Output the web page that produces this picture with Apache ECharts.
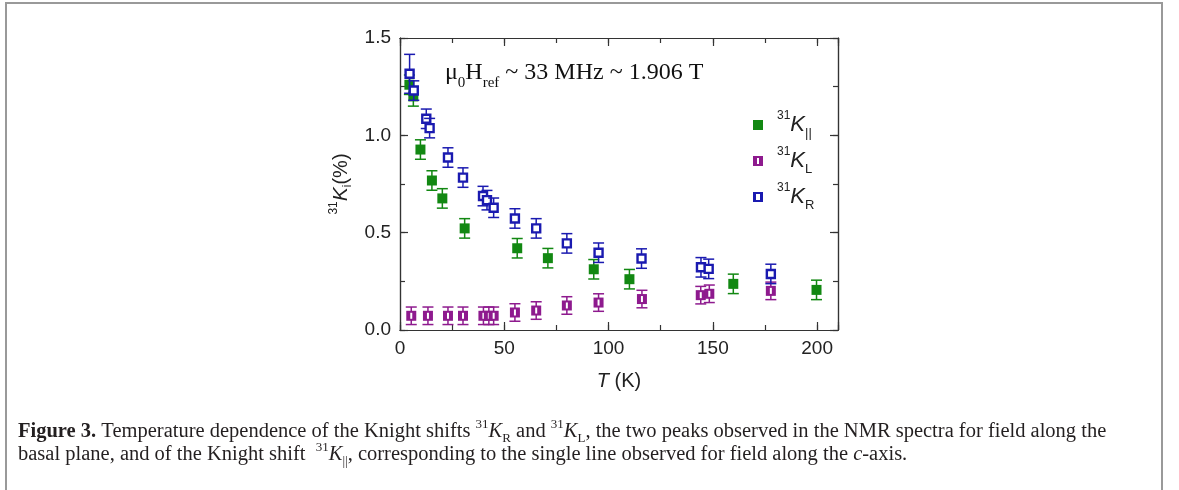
<!DOCTYPE html>
<html>
<head>
<meta charset="utf-8">
<script src="https://cdn.jsdelivr.net/npm/echarts@6/dist/echarts.min.js"></script>
<style>
  html, body { margin: 0; padding: 0; background: #fff; }
  #chart { width: 1179px; height: 490px; }
</style>
</head>
<body>
<div id="chart"></div>
<script>
// K parallel (green, filled squares)
const tPar = [4.5, 6.4, 9.8, 15.3, 20.3, 31.0, 56.2, 70.9, 92.9, 110.0, 159.8, 199.7];
const kPar = [1.26, 1.20, 0.927, 0.768, 0.676, 0.522, 0.42, 0.369, 0.312, 0.261, 0.237, 0.206];
const ePar = [0.05, 0.05, 0.05, 0.05, 0.05, 0.05, 0.05, 0.05, 0.05, 0.05, 0.05, 0.05];

// K_L (purple)
const tL = [5.4, 13.4, 23.0, 30.2, 40.0, 42.6, 44.9, 55.1, 65.3, 80.0, 95.2, 116.0, 144.2, 148.3, 177.8];
const kL = [0.073, 0.073, 0.073, 0.073, 0.073, 0.073, 0.073, 0.09, 0.10, 0.126, 0.141, 0.159, 0.179, 0.186, 0.201];
const eL = [0.045, 0.045, 0.045, 0.045, 0.045, 0.045, 0.045, 0.045, 0.045, 0.045, 0.045, 0.045, 0.045, 0.045, 0.045];

// K_R (blue, open squares)
const tR = [4.6, 6.6, 12.6, 14.2, 23.0, 30.2, 39.8, 41.7, 44.9, 55.1, 65.3, 80.0, 95.2, 115.8, 144.3, 148.0, 177.8];
const kR = [1.316, 1.23, 1.085, 1.037, 0.886, 0.783, 0.688, 0.667, 0.628, 0.573, 0.522, 0.445, 0.397, 0.367, 0.322, 0.314, 0.288];
const eR = [0.10, 0.05, 0.05, 0.05, 0.05, 0.05, 0.05, 0.05, 0.05, 0.05, 0.05, 0.05, 0.05, 0.05, 0.05, 0.05, 0.05];

const xTicks = [0, 50, 100, 150, 200];

const GREEN = "#128812";
const PURPLE = "#8e1a8e";
const BLUE = "#1a1ab0";
const SANS = "Liberation Sans, Arial, sans-serif";
const SERIF = "Liberation Serif, Times New Roman, serif";

const chart = echarts.init(document.getElementById("chart"), null, { renderer: "canvas" });

function rows(t, k, e) {
    return t.map((v, i) => [v, k[i], e[i]]);
}

function renderer(color, kind) {
    return function (params, api) {
        const x = api.value(0);
        const y = api.value(1);
        const e = api.value(2);
        const c = api.coord([x, y]);
        const hi = api.coord([x, y + e]);
        const lo = api.coord([x, y - e]);
        const cap = 5.5;
        const s = 5;
        const line = { stroke: color, lineWidth: 1.5 };
        const children = [
            { type: "line", shape: { x1: c[0], y1: hi[1], x2: c[0], y2: lo[1] }, style: line },
            { type: "line", shape: { x1: c[0] - cap, y1: hi[1], x2: c[0] + cap, y2: hi[1] }, style: line },
            { type: "line", shape: { x1: c[0] - cap, y1: lo[1], x2: c[0] + cap, y2: lo[1] }, style: line }
        ];
        if (kind === "filled") {
            children.push({ type: "rect", shape: { x: c[0] - s, y: c[1] - s, width: 2 * s, height: 2 * s }, style: { fill: color } });
        } else if (kind === "slit") {
            children.push({ type: "rect", shape: { x: c[0] - s, y: c[1] - s, width: 2 * s, height: 2 * s }, style: { fill: color } });
            children.push({ type: "rect", shape: { x: c[0] - 1, y: c[1] - 3, width: 2, height: 6 }, style: { fill: "#fff" } });
        } else {
            children.push({ type: "rect", shape: { x: c[0] - s + 1, y: c[1] - s + 1, width: 2 * s - 2, height: 2 * s - 2 }, style: { fill: "#fff", stroke: color, lineWidth: 2.4 } });
        }
        return { type: "group", children };
    };
}

const axisLine = { show: true, onZero: false, lineStyle: { color: "#333", width: 1.2 } };

function xAxisDef(pos, interval, len, labels) {
    return {
        type: "value", position: pos, min: 0, max: 210, interval: interval,
        axisLine: axisLine,
        axisTick: { show: true, inside: true, length: len, lineStyle: { color: "#333", width: 1.2 } },
        axisLabel: labels ? {
            show: true, margin: 9, fontSize: 19, fontFamily: SANS, color: "#222",
            formatter: v => (xTicks.indexOf(v) >= 0 ? String(v) : "")
        } : { show: false },
        splitLine: { show: false }
    };
}

function yAxisDef(pos, interval, len, labels) {
    return {
        type: "value", position: pos, min: 0, max: 1.5, interval: interval,
        axisLine: axisLine,
        axisTick: { show: true, inside: true, length: len, lineStyle: { color: "#333", width: 1.2 } },
        axisLabel: labels ? {
            show: true, margin: 9, fontSize: 19, fontFamily: SANS, color: "#222",
            formatter: v => v.toFixed(1)
        } : { show: false },
        splitLine: { show: false }
    };
}

const xMain = xAxisDef("bottom", 50, 8, true);
xMain.name = "{i|T} (K)";
xMain.nameLocation = "middle";
xMain.nameGap = 41;
xMain.nameTextStyle = {
    fontSize: 20, fontFamily: SANS, color: "#222",
    rich: { i: { fontSize: 20, fontFamily: SANS, fontStyle: "italic", color: "#222" } }
};

const yMain = yAxisDef("left", 0.5, 8, true);
yMain.name = "{sup|31}{k|K}{sub|i}{n|(%)}";
yMain.nameLocation = "middle";
yMain.nameRotate = 90;
yMain.nameGap = 46;
yMain.nameTextStyle = {
    fontSize: 20, fontFamily: SANS, color: "#222",
    rich: {
        sup: { fontSize: 12, fontFamily: SANS, color: "#222", verticalAlign: "top", lineHeight: 26 },
        k: { fontSize: 21, fontFamily: SANS, fontStyle: "italic", color: "#222", lineHeight: 26 },
        sub: { fontSize: 12, fontFamily: SANS, color: "#222", verticalAlign: "bottom", lineHeight: 26 },
        n: { fontSize: 20, fontFamily: SANS, color: "#222", lineHeight: 26 }
    }
};

const legendRich = {
    sup: { fontSize: 12, fontFamily: SANS, color: "#222", verticalAlign: "top", lineHeight: 30, padding: [0, 0, 0, 9] },
    k: { fontSize: 22, fontFamily: SANS, fontStyle: "italic", color: "#222", lineHeight: 30 },
    sub: { fontSize: 13, fontFamily: SANS, color: "#222", verticalAlign: "bottom", lineHeight: 30 }
};
const legendText = { "K∥": "{sup|31}{k|K}{sub|||}", "KL": "{sup|31}{k|K}{sub|L}", "KR": "{sup|31}{k|K}{sub|R}" };

const capRich = {
    b: { fontSize: 20.5, fontFamily: SERIF, fontWeight: "bold", color: "#231f20" },
    i: { fontSize: 20.5, fontFamily: SERIF, fontStyle: "italic", color: "#231f20" },
    sup: { fontSize: 13, fontFamily: SERIF, color: "#231f20", verticalAlign: "top", lineHeight: 27 },
    sub: { fontSize: 13, fontFamily: SERIF, color: "#231f20", verticalAlign: "bottom", lineHeight: 27 }
};

const option = {
    animation: false,
    backgroundColor: "#fff",
    grid: { left: 400, right: 341, top: 38, bottom: 160 },
    xAxis: [
        xMain,
        xAxisDef("bottom", 25, 5, false),
        xAxisDef("top", 50, 8, false),
        xAxisDef("top", 25, 5, false)
    ],
    yAxis: [
        yMain,
        yAxisDef("left", 0.25, 5, false),
        yAxisDef("right", 0.5, 8, false),
        yAxisDef("right", 0.25, 5, false)
    ],
    legend: {
        orient: "vertical",
        left: 748,
        top: 105,
        itemGap: 6,
        itemWidth: 10,
        itemHeight: 10,
        selectedMode: false,
        data: [
            { name: "K∥", icon: "rect" },
            { name: "KL", icon: "path://M0,0H10V10H0Z M4,2V8H6V2Z" },
            { name: "KR", icon: "path://M0,0H10V10H0Z M3,2V8H7V2Z" }
        ],
        formatter: name => legendText[name],
        textStyle: { rich: legendRich }
    },
    series: [
        { name: "K∥", type: "custom", renderItem: renderer(GREEN, "filled"), itemStyle: { color: GREEN }, data: rows(tPar, kPar, ePar), z: 3 },
        { name: "KL", type: "custom", renderItem: renderer(PURPLE, "slit"), itemStyle: { color: PURPLE }, data: rows(tL, kL, eL), z: 4 },
        { name: "KR", type: "custom", renderItem: renderer(BLUE, "open"), itemStyle: { color: BLUE }, data: rows(tR, kR, eR), z: 5 }
    ],
    graphic: [
        {
            type: "rect", silent: true, z: -1,
            shape: { x: 6, y: 3, width: 1156, height: 500 },
            style: { fill: "none", stroke: "#999", lineWidth: 2 }
        },
        {
            type: "text", x: 445, y: 73,
            style: {
                text: "μ{sub|0}H{sub|ref} ~ 33 MHz ~ 1.906 T",
                fontSize: 24, fontFamily: SERIF, fill: "#111", verticalAlign: "middle",
                rich: { sub: { fontSize: 15, fontFamily: SERIF, fill: "#111", verticalAlign: "bottom", lineHeight: 36 } }
            }
        },
        {
            type: "text", x: 18, y: 432,
            style: {
                text: "{b|Figure 3.} Temperature dependence of the Knight shifts {sup|31}{i|K}{sub|R} and {sup|31}{i|K}{sub|L}, the two peaks observed in the NMR spectra for field along the",
                fontSize: 20.5, fontFamily: SERIF, fill: "#231f20", verticalAlign: "middle", rich: capRich
            }
        },
        {
            type: "text", x: 18, y: 455,
            style: {
                text: "basal plane, and of the Knight shift  {sup|31}{i|K}{sub|||}, corresponding to the single line observed for field along the {i|c}-axis.",
                fontSize: 20.5, fontFamily: SERIF, fill: "#231f20", verticalAlign: "middle", rich: capRich
            }
        }
    ]
};

chart.setOption(option);
</script>
</body>
</html>
